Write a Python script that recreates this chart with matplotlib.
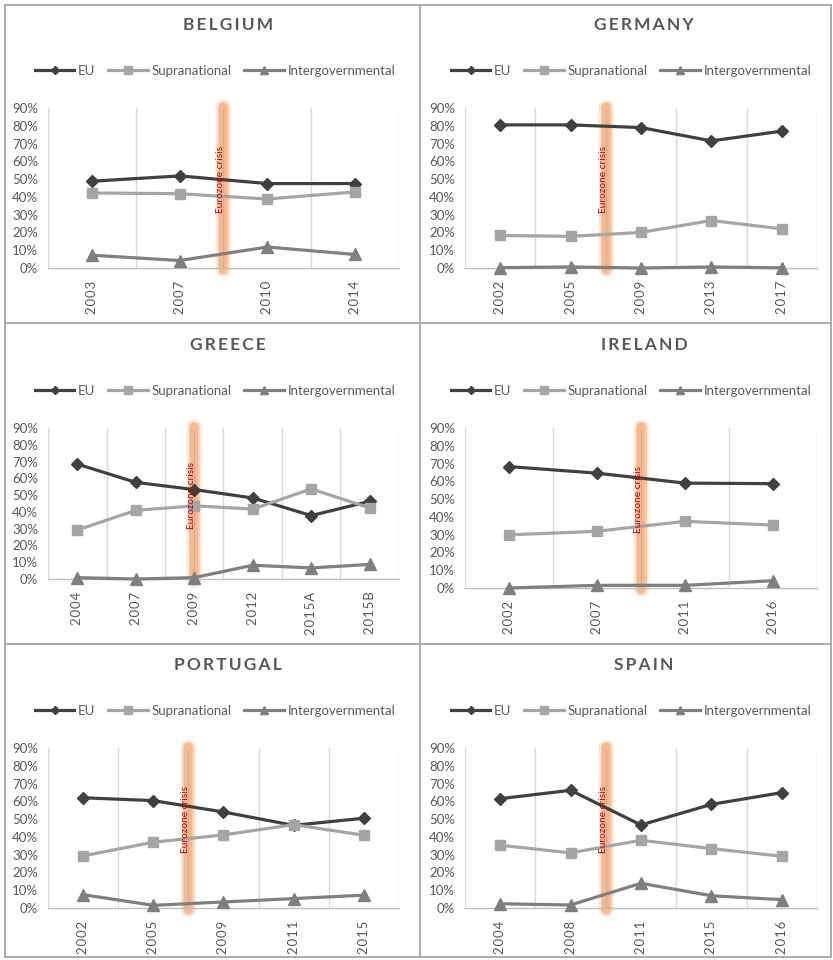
import matplotlib
matplotlib.use("Agg")
import matplotlib.pyplot as plt
from matplotlib.lines import Line2D

plt.rcParams['font.family'] = ['Lato', 'DejaVu Sans']

# ---- data (shares of respondents, %) ----
countries = ["BELGIUM", "GERMANY", "GREECE", "IRELAND", "PORTUGAL", "SPAIN"]

years_belgium = ["2003", "2007", "2010", "2014"]
eu_belgium = [48.8, 51.8, 47.5, 47.5]
supra_belgium = [42.2, 41.8, 38.8, 42.8]
inter_belgium = [7.2, 4.2, 11.8, 7.6]

years_germany = ["2002", "2005", "2009", "2013", "2017"]
eu_germany = [80.5, 80.5, 79.0, 71.5, 77.0]
supra_germany = [18.3, 17.8, 20.0, 26.7, 22.0]
inter_germany = [0.2, 0.6, 0.0, 0.6, 0.1]

years_greece = ["2004", "2007", "2009", "2012", "2015A", "2015B"]
eu_greece = [68.5, 57.6, 53.3, 48.3, 37.8, 46.3]
supra_greece = [29.2, 40.9, 43.6, 41.7, 53.7, 42.3]
inter_greece = [0.8, 0.0, 0.8, 8.2, 6.6, 8.7]

years_ireland = ["2002", "2007", "2011", "2016"]
eu_ireland = [68.3, 64.6, 59.0, 58.7]
supra_ireland = [29.9, 31.9, 37.5, 35.4]
inter_ireland = [0.0, 1.5, 1.5, 4.1]

years_portugal = ["2002", "2005", "2009", "2011", "2015"]
eu_portugal = [62.0, 60.4, 54.0, 46.5, 50.5]
supra_portugal = [29.3, 37.0, 41.1, 46.9, 40.9]
inter_portugal = [7.5, 1.5, 3.4, 5.3, 7.2]

years_spain = ["2004", "2008", "2011", "2015", "2016"]
eu_spain = [61.5, 66.2, 46.7, 58.3, 64.9]
supra_spain = [35.3, 31.0, 38.1, 33.4, 29.1]
inter_spain = [2.4, 1.7, 13.9, 6.9, 4.7]

# position of the crisis marker on the category axis
crisis_pos = [1.5, 1.5, 2.0, 1.5, 1.5, 1.5]

series_names = ["EU", "Supranational", "Intergovernmental"]

panels = [
    (years_belgium, eu_belgium, supra_belgium, inter_belgium),
    (years_germany, eu_germany, supra_germany, inter_germany),
    (years_greece, eu_greece, supra_greece, inter_greece),
    (years_ireland, eu_ireland, supra_ireland, inter_ireland),
    (years_portugal, eu_portugal, supra_portugal, inter_portugal),
    (years_spain, eu_spain, supra_spain, inter_spain),
]

# ---- styling ----
W, H = 833, 960
fig = plt.figure(figsize=(W / 100, H / 100), dpi=100)

TXT = "#595959"
GRID = "#D9D9D9"
styles = [
    dict(color="#404040", marker="D", ms=6.5),
    dict(color="#A5A5A5", marker="s", ms=7.5),
    dict(color="#7F7F7F", marker="^", ms=8),
]
LW = 2.3

HS = "\u200a"
TS = "\u2009"


def fx(px):
    return px / W


def fy(py):
    return 1 - py / H


def spaced(s, sep=HS):
    return sep.join(list(s))


origins = [(0, 0), (416, 0), (0, 320), (416, 320), (0, 640), (416, 640)]

for i, (title, (years, eu, supra, inter)) in enumerate(zip(countries, panels)):
    ox, oy = origins[i]
    left = ox + 48 + (1 if ox else 0)
    right = ox + 399 + (2 if ox else 0)
    top = oy + 108
    bottom = oy + (259 if title == "GREECE" else 268)
    ax = fig.add_axes([fx(left), fy(bottom), fx(right - left), (bottom - top) / H])

    n = len(years)
    x = list(range(n))
    ax.set_xlim(-0.5, n - 0.5)
    ax.set_ylim(0, 90)

    for s in ["top", "right", "left"]:
        ax.spines[s].set_visible(False)
    ax.spines["bottom"].set_color("#BFBFBF")
    ax.spines["bottom"].set_linewidth(1.0)

    # vertical gridlines between categories
    for b in range(n + 1):
        ax.axvline(b - 0.5, color=GRID, lw=1.0, zorder=0)

    # crisis marker: soft orange band with a faint centre line
    cx = crisis_pos[i]
    for w, a in [(12, 0.12), (10, 0.22), (8, 0.45), (6, 0.7)]:
        ax.plot([cx, cx], [-0.3, 90.3], color="#F4B183", lw=w, alpha=a,
                solid_capstyle="round", clip_on=False, zorder=1)
    ax.plot([cx, cx], [0, 89], color="#D2AE98", lw=0.8, zorder=1.5, clip_on=False)

    for vals, st in zip([eu, supra, inter], styles):
        ax.plot(x, vals, color=st["color"], lw=LW, marker=st["marker"],
                ms=st["ms"], mec=st["color"], mfc=st["color"], zorder=3,
                clip_on=False)

    ax.text(cx + 0.02 * n / 4, 50, "Eurozone crisis", rotation=90, color="#C00000",
            fontsize=7.3, ha="right", va="center", zorder=5)

    ax.set_yticks(range(0, 91, 10))
    ax.set_yticklabels([f"{v}%" for v in range(0, 91, 10)])
    ax.set_xticks(x)
    ax.set_xticklabels([spaced(y) for y in years], rotation=90)
    ax.tick_params(axis="y", length=0, pad=7, labelsize=9.5, labelcolor=TXT)
    ax.tick_params(axis="x", length=0, pad=9, labelsize=9.5, labelcolor=TXT)

    # panel title
    fig.text(fx(ox + 228), fy(oy + 25), spaced(title, TS), ha="center", va="center",
             fontsize=12.5, fontweight="bold", color=TXT)

    # legend
    handles = [
        Line2D([0], [0], color=st["color"], lw=LW, marker=st["marker"],
               ms=st["ms"] * 0.7, mec=st["color"], mfc=st["color"])
        for st in styles
    ]
    fig.legend(handles, series_names, loc="center",
               bbox_to_anchor=(fx(ox + 215), fy(oy + 71)), ncol=3, frameon=False,
               fontsize=9.5, labelcolor=TXT, handlelength=3.0, handletextpad=0.25,
               columnspacing=1.0, borderpad=0, borderaxespad=0)

# panel frames
frame = dict(color="#A6A6A6", lw=1.3, transform=fig.transFigure, clip_on=False)
fig.add_artist(Line2D([fx(5), fx(831)], [fy(5), fy(5)], **frame))
fig.add_artist(Line2D([fx(5), fx(5)], [fy(5), fy(957)], **frame))
fig.add_artist(Line2D([fx(831), fx(831)], [fy(5), fy(957)], **frame))
fig.add_artist(Line2D([fx(5), fx(831)], [fy(957), fy(957)], **frame))
fig.add_artist(Line2D([fx(420), fx(420)], [fy(5), fy(957)], **frame))
fig.add_artist(Line2D([fx(5), fx(831)], [fy(323), fy(323)], **frame))
fig.add_artist(Line2D([fx(5), fx(831)], [fy(644), fy(644)], **frame))

fig.savefig("out.png", dpi=100, facecolor="white")
